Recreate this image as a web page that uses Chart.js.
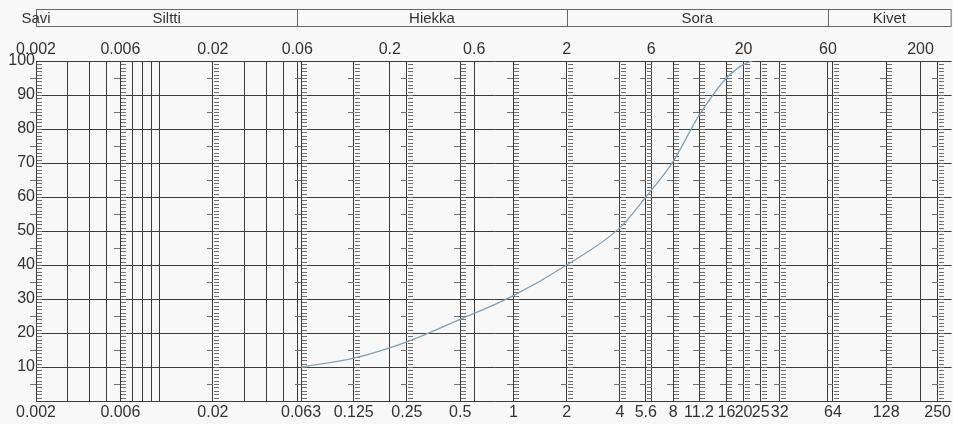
<!DOCTYPE html>
<html>
<head>
<meta charset="utf-8">
<script src="https://cdn.jsdelivr.net/npm/chart.js@4"></script>
<style>
    html, body { margin: 0; padding: 0; background: #f8f8f8; }
</style>
</head>
<body>
<canvas id="gradChart" width="953" height="424"></canvas>
<script>
// Rakeisuuskäyrä: raekoko (mm) ja läpäisy (%)
const sieveSizes = [0.063, 0.125, 0.25, 0.5, 1, 2, 4, 5.6, 8, 11.2, 16, 20, 22.4];
const passingPct = [10, 12.6, 17.4, 24, 31, 40, 51, 60, 70.5, 84, 95, 99, 100];

// Viivaimet (seulakoot) = alareunan tekstit
const rulerSizes = [0.002, 0.006, 0.02, 0.063, 0.125, 0.25, 0.5, 1, 2, 4, 5.6, 8, 11.2, 16, 20, 25, 32, 64, 128, 250];
// Ohuet pystyviivat ilman asteikkoa
const plainLines = [0.003, 0.004, 0.005, 0.007, 0.008, 0.009, 0.01, 0.03, 0.04, 0.05, 0.06, 0.2, 0.6, 6, 60, 200];
// Yläreunan tekstit
const topLabels = [0.002, 0.006, 0.02, 0.06, 0.2, 0.6, 2, 6, 20, 60, 200];
const yTicks = [0, 10, 20, 30, 40, 50, 60, 70, 80, 90, 100];

// Maalajit
const soilNames = ['Savi', 'Siltti', 'Hiekka', 'Sora', 'Kivet'];
const soilBounds = [0.002, 0.06, 2, 60];

const X_MIN = 0.002;
const X_MAX = 300;
const FONT = { family: "'Liberation Sans', Arial, sans-serif", size: 16 };
const TEXT = '#333';

// Viivaimen väkäset (1 % välein oikealle, 5 % välein vasemmalle)
const rulerPlugin = {
    id: 'rulers',
    beforeDatasetsDraw(chart) {
        const ctx = chart.ctx;
        const xs = chart.scales.x;
        const ys = chart.scales.y;
        ctx.save();
        ctx.strokeStyle = '#707070';
        ctx.lineWidth = 1;
        ctx.beginPath();
        for (const v of rulerSizes) {
            const x = Math.round(xs.getPixelForValue(v));
            for (let p = 1; p < 100; p++) {
                const y = Math.round(ys.getPixelForValue(p)) + 0.5;
                ctx.moveTo(x + 1, y);
                ctx.lineTo(x + 6, y);
                if (p % 5 === 0 && p % 10 !== 0) {
                    ctx.moveTo(x - 6, y);
                    ctx.lineTo(x, y);
                }
            }
        }
        ctx.stroke();
        ctx.restore();
    }
};

// Maalajikaista ylös
const bandPlugin = {
    id: 'soilBand',
    afterDraw(chart) {
        const ctx = chart.ctx;
        const xs = chart.scales.x;
        const left = chart.chartArea.left;
        const right = chart.chartArea.right - 1;
        const top = 9.5, bottom = 26.5;
        ctx.save();
        ctx.strokeStyle = '#666';
        ctx.lineWidth = 1;
        ctx.strokeRect(left + 0.5, top, right - left, bottom - top);
        const edges = soilBounds.map(v => xs.getPixelForValue(v));
        ctx.beginPath();
        for (let i = 1; i < edges.length; i++) {
            const x = Math.round(edges[i]) + 0.5;
            ctx.moveTo(x, top);
            ctx.lineTo(x, bottom);
        }
        ctx.stroke();
        edges.push(right);
        ctx.fillStyle = TEXT;
        ctx.font = `15px ${FONT.family}`;
        ctx.textAlign = 'center';
        ctx.textBaseline = 'middle';
        ctx.fillText(soilNames[0], edges[0], 18.5);
        for (let i = 1; i < soilNames.length; i++) {
            ctx.fillText(soilNames[i], (edges[i - 1] + edges[i]) / 2, 18.5);
        }
        ctx.restore();
    }
};

const allLines = [...rulerSizes, ...plainLines].sort((a, b) => a - b);

new Chart(document.getElementById('gradChart'), {
    type: 'line',
    data: {
        datasets: [{
            data: sieveSizes.map((s, i) => ({ x: s, y: passingPct[i] })),
            borderColor: '#86a0b2',
            borderWidth: 1.3,
            pointRadius: 0,
            cubicInterpolationMode: 'monotone',
            fill: false
        }]
    },
    options: {
        responsive: false,
        animation: false,
        devicePixelRatio: 1,
        layout: { padding: { left: 0, right: 1, top: 0, bottom: 0 } },
        plugins: { legend: { display: false }, tooltip: { enabled: false } },
        scales: {
            x: {
                type: 'logarithmic',
                position: 'bottom',
                min: X_MIN,
                max: X_MAX,
                afterBuildTicks: s => { s.ticks = allLines.map(v => ({ value: v })); },
                afterFit: s => { s.height = 23; },
                grid: { color: '#3c3c3c', lineWidth: 1, drawTicks: false },
                border: { display: false },
                ticks: {
                    autoSkip: false,
                    maxRotation: 0,
                    padding: 2,
                    color: TEXT,
                    font: FONT,
                    callback: v => rulerSizes.includes(v) ? String(v) : ''
                }
            },
            xTop: {
                type: 'logarithmic',
                position: 'top',
                min: X_MIN,
                max: X_MAX,
                afterBuildTicks: s => { s.ticks = topLabels.map(v => ({ value: v })); },
                afterFit: s => { s.height = 61; },
                grid: { display: false, drawTicks: false },
                border: { display: false },
                ticks: {
                    autoSkip: false,
                    maxRotation: 0,
                    padding: 2,
                    color: TEXT,
                    font: FONT,
                    callback: v => String(v)
                }
            },
            y: {
                min: 0,
                max: 100,
                afterBuildTicks: s => { s.ticks = yTicks.map(v => ({ value: v })); },
                afterFit: s => { s.width = 36; },
                grid: { color: '#3c3c3c', lineWidth: 1, drawTicks: false },
                border: { display: true, color: '#3c3c3c' },
                ticks: {
                    padding: 1,
                    color: TEXT,
                    font: FONT,
                    callback: v => v === 0 ? '' : String(v)
                }
            }
        }
    },
    plugins: [rulerPlugin, bandPlugin]
});
</script>
</body>
</html>
